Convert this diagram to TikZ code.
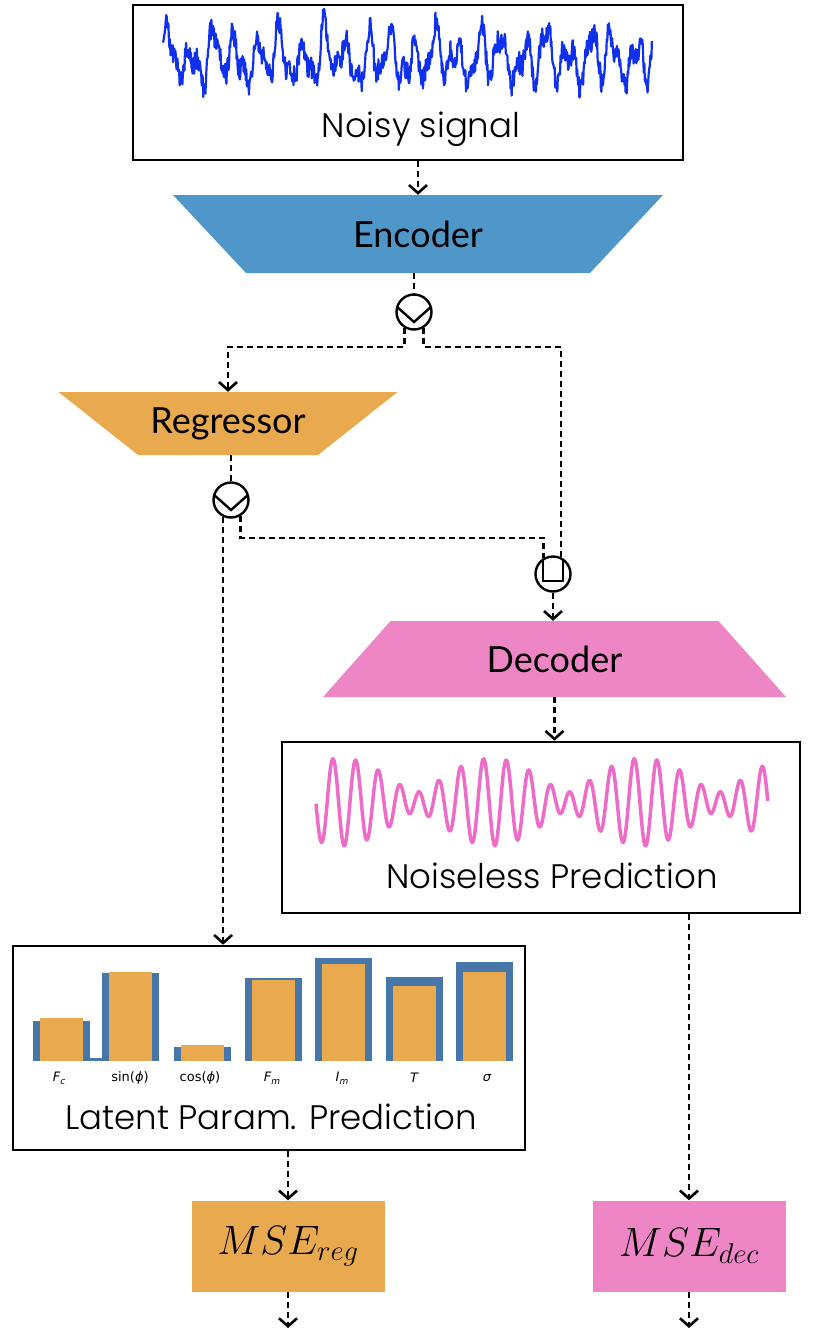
\documentclass[tikz,border=0pt]{standalone}
\usepackage{fix-cm}
\usepackage{fontspec}
\usetikzlibrary{arrows.meta,calc}
\IfFontExistsTF{Poppins Light}{\newfontfamily\gothic{Poppins Light}}{\newfontfamily\gothic{Poppins}}
\newfontfamily\gill{Lato}
\newfontfamily\mpl{DejaVu Sans}
\definecolor{encblue}{HTML}{4F97C8}
\definecolor{regorange}{HTML}{E9A94F}
\definecolor{decpink}{HTML}{EE86C6}
\definecolor{barblue}{HTML}{4677A8}
\definecolor{noiseblue}{HTML}{1030F0}
\definecolor{wavepink}{HTML}{EC6CC8}
\newcommand\sbs[1]{\raisebox{-0.25em}{\fontsize{9}{9}\selectfont #1}}
\pgfdeclarelayer{background}
\pgfsetlayers{background,main}
\begin{document}
\begin{tikzpicture}[x=1pt,y=-1pt,
  box/.style={draw=black, line width=2.6pt, rectangle, inner sep=0pt},
  lossbox/.style={rectangle, inner sep=0pt, minimum width=193pt, minimum height=91pt,
    font=\fontsize{41}{41}\selectfont},
  gothictxt/.style={font=\gothic\fontsize{34}{34}\selectfont, inner sep=0pt},
  stage/.style={rectangle, inner sep=0pt, font=\gill\fontsize{36}{36}\selectfont},
  splitnode/.style={circle, draw, line width=2.4pt, minimum size=35pt, inner sep=0pt,
    path picture={\draw[line width=2.4pt]
      ($(path picture bounding box.center)+(-18,-6)$)
      -- ($(path picture bounding box.center)+(0,10)$)
      -- ($(path picture bounding box.center)+(18,-6)$);}},
  catnode/.style={circle, draw, line width=2.4pt, minimum size=35pt, inner sep=0pt,
    path picture={\draw[line width=2.4pt]
      ($(path picture bounding box.center)+(-10,-18)$)
      rectangle ($(path picture bounding box.center)+(10,7)$);}},
  link/.style={line width=2.6pt, dash pattern=on 6pt off 4pt},
  flow/.style={link, -{Straight Barb[length=8pt,width=18pt]}},
  barlbl/.style={font=\mpl\fontsize{13}{13}\selectfont, inner sep=0pt}
]
\useasboundingbox (0,0) rectangle (813,1330);

% ---- input signal ----
\node[box, minimum width=550pt, minimum height=155pt] (noisy) at (408,82.5) {};
\node[gothictxt, anchor=base] (noisylbl) at (421,137) {Noisy signal};
\pgfmathsetseed{11}
\draw[noiseblue, line width=2.2pt, line join=round]
  plot[domain=0:1, samples=900]
  ({163+489*\x}, {58 - 18*sin(22*360*\x) - 10*sin(43*360*\x+40) - 8*sin(9*360*\x+70)
     - 6*sin(31*360*\x+10) - 11*rand});

% ---- encoder, regressor, decoder (trapezoids filled behind their labels) ----
\node[stage, minimum width=490pt, minimum height=78pt] (enc) at (418,234) {Encoder};
\node[splitnode] (split1) at (414,312) {};
\node[stage, minimum width=339pt, minimum height=63pt] (reg) at (228,423.5) {Regressor};
\node[splitnode] (split2) at (231,500) {};
\node[catnode] (cat) at (553,574) {};
\node[stage, minimum width=463pt, minimum height=76pt] (dec) at (554.5,659) {Decoder};
\begin{pgfonlayer}{background}
  \fill[encblue] ($(enc.center)+(-245,-39)$) -- ($(enc.center)+(245,-39)$)
    -- ($(enc.center)+(172,39)$) -- ($(enc.center)+(-172,39)$) -- cycle;
  \fill[regorange] ($(reg.center)+(-169.5,-31.5)$) -- ($(reg.center)+(169.5,-31.5)$)
    -- ($(reg.center)+(90,31.5)$) -- ($(reg.center)+(-90,31.5)$) -- cycle;
  \fill[decpink] ($(dec.center)+(-164,-38)$) -- ($(dec.center)+(164,-38)$)
    -- ($(dec.center)+(231.5,38)$) -- ($(dec.center)+(-231.5,38)$) -- cycle;
\end{pgfonlayer}

% ---- reconstructed signal ----
\node[box, minimum width=518pt, minimum height=171pt] (noiseless) at (541,827.5) {};
\node[gothictxt, anchor=base] (noiselesslbl) at (552,888) {Noiseless Prediction};
\draw[wavepink, line width=3.5pt, line join=round]
  plot[domain=0:1, samples=500]
  ({316+452*\x}, {802 + 27*sin(21*360*\x - 20) + 17*sin(18*360*\x + 40)});

% ---- latent parameter bars ----
\node[box, minimum width=512pt, minimum height=204pt] (latent) at (269,1048) {};
\fill[barblue] (88,1058) rectangle (102,1061);
\foreach \c/\bt/\ot in {61/1021/1018, 130.5/973/972, 202/1047/1045, 273/978/980,
                        343.5/958/964, 414.5/977/986, 484.5/962/972} {
  \fill[barblue] (\c-28.5,\bt) rectangle (\c+28.5,1061);
  \fill[regorange] (\c-21.5,\ot) rectangle (\c+21.5,1061);
}
\node[barlbl] (lfc) at (59,1078) {\itshape F\sbs{c}};
\node[barlbl] (lsin) at (130,1078) {sin(\textit{ϕ})};
\node[barlbl] (lcos) at (200,1078) {cos(\textit{ϕ})};
\node[barlbl] (lfm) at (272,1078) {\itshape F\sbs{m}};
\node[barlbl] (lim) at (342,1078) {\itshape I\sbs{m}};
\node[barlbl] (lt) at (414,1078) {\itshape T};
\node[barlbl] (lsig) at (487,1078) {\itshape σ};
\node[gothictxt, anchor=base] (latentlbl) at (271,1129) {Latent Param. Prediction};

% ---- losses ----
\node[lossbox, fill=regorange] (mseR) at (288,1246) {$MSE_{reg}$};
\node[lossbox, fill=decpink] (mseD) at (689,1246) {$MSE_{dec}$};
\coordinate (endR) at (288,1328);
\coordinate (endD) at (689,1328);

% ---- connectors ----
\draw[flow] (enc.north |- noisy.south) -- (enc.north);
\draw[link] (split1.north |- enc.south) -- (split1.north);
\coordinate (b1) at ($(split1.center)+(0,35)$);
\draw[flow] (split1.240) |- (reg.north |- b1) -- (reg.north);
\draw[link] (split1.300) |- (cat.65 |- b1) -- (cat.65);
\draw[link] (split2.north |- reg.south) -- (split2.north);
\draw[flow] (split2.245) -- (split2.245 |- latent.north);
\coordinate (b2) at ($(split2.center)+(0,38)$);
\draw[link] (split2.300) |- (cat.120 |- b2) -- (cat.120);
\draw[flow] (cat.south) -- (cat.south |- dec.north);
\draw[flow] (dec.south) -- (dec.south |- noiseless.north);
\draw[flow] (mseD.north |- noiseless.south) -- (mseD.north);
\draw[flow] (mseR.north |- latent.south) -- (mseR.north);
\draw[flow] (mseR.south) -- (endR);
\draw[flow] (mseD.south) -- (endD);
\end{tikzpicture}
\end{document}
